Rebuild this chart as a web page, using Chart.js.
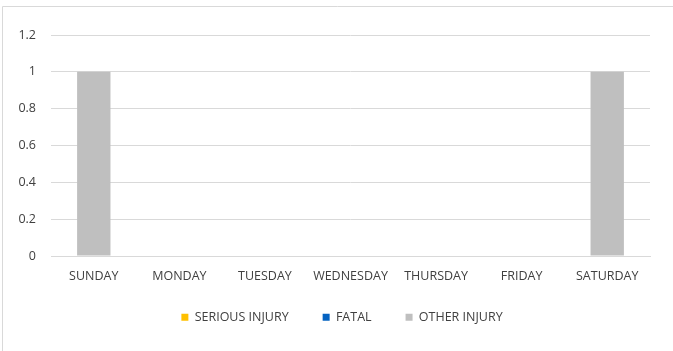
<!DOCTYPE html>
<html>
<head>
<meta charset="utf-8">
<script src="https://cdn.jsdelivr.net/npm/chart.js@4"></script>
<style>
  html, body { margin: 0; padding: 0; background: #fff; }
  #wrap { width: 673px; height: 351px; position: relative; }
</style>
</head>
<body>
<div id="wrap"><canvas id="myChart" width="673" height="351"></canvas></div>
<script>
// datos del grafico
const dias = ["SUNDAY", "MONDAY", "TUESDAY", "WEDNESDAY", "THURSDAY", "FRIDAY", "SATURDAY"];
const seriousInjury = [0, 0, 0, 0, 0, 0, 0];
const fatal = [0, 0, 0, 0, 0, 0, 0];
const otherInjury = [1, 0, 0, 0, 0, 0, 1];
const yTicks = [0, 0.2, 0.4, 0.6, 0.8, 1, 1.2];

const gris = "#D9D9D9";
const textoColor = "#404040";
Chart.defaults.font.family = "'Open Sans', 'Liberation Sans', sans-serif";
Chart.defaults.font.size = 12.5;
Chart.defaults.color = textoColor;

// marco del grafico (borde izquierdo y superior) + ajuste de la leyenda
const marco = {
  id: "marco",
  afterLayout(chart) {
    const lg = chart.legend;
    lg.left += 17; lg.right += 17;
    lg.top -= 19; lg.bottom -= 19;
  },
  beforeDraw(chart) {
    const ctx = chart.ctx;
    ctx.save();
    ctx.strokeStyle = gris;
    ctx.lineWidth = 1;
    ctx.beginPath();
    ctx.moveTo(2.5, 351);
    ctx.lineTo(2.5, 6.5);
    ctx.lineTo(673, 6.5);
    ctx.stroke();
    ctx.restore();
  }
};

const config = {
  type: "bar",
  data: {
    labels: dias,
    datasets: [
      { label: "SERIOUS INJURY", data: seriousInjury, backgroundColor: "#FFC000" },
      { label: "FATAL", data: fatal, backgroundColor: "#0563C1" },
      { label: "OTHER INJURY", data: otherInjury, backgroundColor: "#BFBFBF" }
    ]
  },
  options: {
    responsive: false,
    animation: false,
    layout: { padding: { left: 0, right: 23, top: 35, bottom: -1.5 } },
    datasets: { bar: { barPercentage: 1, categoryPercentage: 0.39 } },
    plugins: {
      legend: {
        position: "bottom",
        labels: { boxWidth: 7, boxHeight: 7, padding: 34, color: textoColor }
      },
      tooltip: { enabled: false }
    },
    scales: {
      x: {
        stacked: true,
        grid: { display: false, drawTicks: false },
        border: { color: gris, width: 1 },
        ticks: { padding: 12.5, maxRotation: 0, autoSkip: false }
      },
      y: {
        stacked: true,
        min: 0,
        max: 1.2,
        afterBuildTicks(axis) { axis.ticks = yTicks.map(v => ({ value: v })); },
        afterFit(axis) { axis.width = 51; },
        grid: { color: gris, drawTicks: false },
        border: { display: false },
        ticks: { padding: 15, callback: v => String(parseFloat(v.toFixed(1))) }
      }
    }
  },
  plugins: [marco]
};

new Chart(document.getElementById("myChart"), config);
</script>
</body>
</html>
